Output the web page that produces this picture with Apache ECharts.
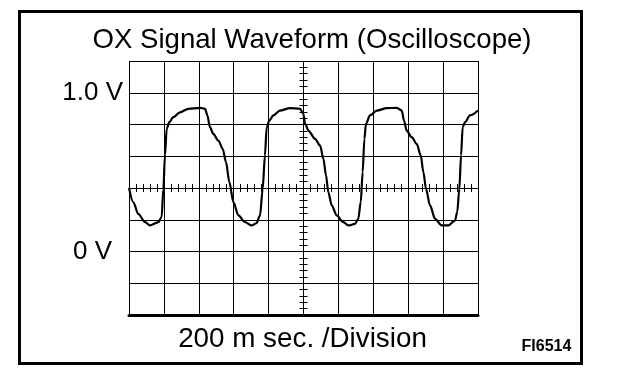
<!DOCTYPE html>
<html>
<head>
<meta charset="utf-8">
<script src="https://cdn.jsdelivr.net/npm/echarts@6/dist/echarts.min.js"></script>
<style>
html,body{margin:0;padding:0;background:#fff;}
#c{width:624px;height:384px;}
</style>
</head>
<body>
<div id="c"></div>
<script>
// Time (ms) and voltage (V)
var timesMs = [0,25,53,92,120,168,187,197,206,216,231,254,292,340,407,436,449,464,483,512,537,556,575,598,627,665,703,730,751,766,779,789,804,827,865,923,980,999,1009,1028,1066,1095,1114,1129,1142,1162,1190,1228,1257,1295,1314,1328,1339,1349,1358,1381,1420,1477,1534,1563,1576,1591,1620,1649,1672,1687,1702,1725,1754,1792,1830,1868,1881,1893,1903,1912,1926,1954,2000];
var volts = [0.40,0.31,0.237,0.185,0.164,0.185,0.216,0.395,0.605,0.773,0.815,0.846,0.877,0.899,0.905,0.899,0.857,0.783,0.741,0.699,0.647,0.563,0.437,0.311,0.227,0.185,0.164,0.178,0.227,0.395,0.605,0.783,0.825,0.857,0.888,0.903,0.899,0.867,0.804,0.762,0.710,0.668,0.584,0.479,0.374,0.290,0.227,0.185,0.164,0.174,0.206,0.311,0.5,0.710,0.804,0.857,0.888,0.903,0.905,0.888,0.825,0.762,0.720,0.678,0.605,0.5,0.395,0.290,0.206,0.164,0.164,0.195,0.248,0.395,0.605,0.783,0.815,0.857,0.888];

// Axis scales
var xMin = 0, xMax = 2000, xDiv = 200, xSubDiv = 40;
var yMin = -0.4, yMax = 1.2, yDiv = 0.2, ySubDiv = 0.04;
var yTickValues = [1.0, 0];
var yTickTexts = ['1.0 V', '0 V'];
var titleText = 'OX Signal Waveform (Oscilloscope)';
var xTitleText = '200 m sec. /Division';
var figId = 'FI6514';

var FONT = 'Liberation Sans, Arial, sans-serif';
var G = {left:129, top:61, width:349, height:254};

var data = timesMs.map(function(t,i){ return [t, volts[i]]; });

function labelFmt(v){
  for (var i=0;i<yTickValues.length;i++){
    if (Math.abs(v - yTickValues[i]) < 1e-6) {
      return (yTickValues[i] === 0 ? '{b|' : '{a|') + yTickTexts[i] + '}';
    }
  }
  return '';
}

var chart = echarts.init(document.getElementById('c'), null, {renderer:'canvas'});
function tickAxis(dim, gridIndex, position, min, max, interval, inside){
  return {type:'value', gridIndex:gridIndex, position:position, min:min, max:max, interval:interval,
    axisLine:{show:false, onZero:false}, axisLabel:{show:false}, splitLine:{show:false},
    axisTick:{show:true, inside:inside, length:4, lineStyle:{color:'#000', width:1}}};
}
chart.setOption({
  animation:false,
  backgroundColor:'#fff',
  grid:[
    {left:G.left, top:G.top, width:G.width, height:G.height},
    {left:G.left, top:G.top, width:G.width, height:G.height/2},
    {left:G.left, top:G.top, width:G.width/2, height:G.height}
  ],
  xAxis:[
    {type:'value', gridIndex:0, min:xMin, max:xMax, interval:xDiv,
     axisLine:{show:true, onZero:false, lineStyle:{color:'#000', width:3}},
     axisTick:{show:false}, axisLabel:{show:false},
     splitLine:{show:true, lineStyle:{color:'#000', width:1}}},
    tickAxis('x', 1, 'bottom', xMin, xMax, xSubDiv, true),
    tickAxis('x', 1, 'bottom', xMin, xMax, xSubDiv, false),
    {type:'value', gridIndex:2, min:xMin, max:xMax, show:false, axisLine:{onZero:false}}
  ],
  yAxis:[
    {type:'value', gridIndex:0, min:yMin, max:yMax, interval:yDiv,
     axisLine:{show:false, onZero:false}, axisTick:{show:false},
     axisLabel:{show:true, formatter:labelFmt, margin:6, color:'#000',
       rich:{
         a:{fontFamily:FONT, fontSize:26, color:'#000'},
         b:{fontFamily:FONT, fontSize:26, color:'#000', padding:[0,11,0,0]}
       }},
     splitLine:{show:true, lineStyle:{color:'#000', width:1}}},
    {type:'value', gridIndex:1, min:yMin, max:yMax, show:false, axisLine:{onZero:false}},
    tickAxis('y', 2, 'right', yMin, yMax, ySubDiv, true),
    tickAxis('y', 2, 'right', yMin, yMax, ySubDiv, false)
  ],
  series:[{
    type:'line', xAxisIndex:0, yAxisIndex:0, data:data,
    showSymbol:false, smooth:0.3, smoothMonotone:'x',
    lineStyle:{color:'#000', width:2.2}, z:5
  }],
  graphic:[
    {type:'rect', shape:{x:19.5, y:11.5, width:562, height:352},
     style:{fill:'none', stroke:'#000', lineWidth:3}, silent:true},
    {type:'text', x:312, y:40, style:{text:titleText, font:'27.6px ' + FONT, fill:'#000', align:'center', verticalAlign:'middle'}},
    {type:'text', x:302.5, y:339.5, style:{text:xTitleText, font:'27.8px ' + FONT, fill:'#000', align:'center', verticalAlign:'middle'}},
    {type:'text', x:546.5, y:346.5, style:{text:figId, font:'bold 16px ' + FONT, fill:'#000', align:'center', verticalAlign:'middle'}}
  ]
});
</script>
</body>
</html>
